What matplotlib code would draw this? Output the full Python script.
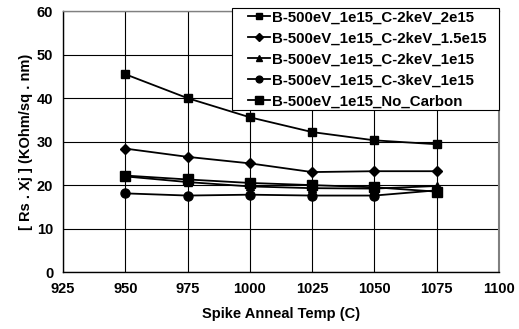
import matplotlib
import matplotlib.pyplot as plt
from matplotlib.patches import Rectangle

matplotlib.use("agg")

plt.rcParams["font.family"] = ["Liberation Sans", "DejaVu Sans"]
plt.rcParams["font.weight"] = "bold"

temps = [950, 975, 1000, 1025, 1050, 1075]
c2kev_2e15 = [45.5, 40.0, 35.6, 32.2, 30.3, 29.4]
c2kev_1p5e15 = [28.4, 26.5, 25.0, 23.0, 23.2, 23.2]
c2kev_1e15 = [22.0, 20.7, 19.7, 19.3, 19.2, 19.8]
c3kev_1e15 = [18.1, 17.6, 17.8, 17.6, 17.6, 18.8]
no_carbon = [22.2, 21.3, 20.5, 20.0, 19.5, 18.5]

labels = [
    "B-500eV_1e15_C-2keV_2e15",
    "B-500eV_1e15_C-2keV_1.5e15",
    "B-500eV_1e15_C-2keV_1e15",
    "B-500eV_1e15_C-3keV_1e15",
    "B-500eV_1e15_No_Carbon",
]
series = [c2kev_2e15, c2kev_1p5e15, c2kev_1e15, c3kev_1e15, no_carbon]
markers = ["s", "D", "^", "o", "s"]
sizes = [6, 5, 6, 6.5, 7]

W, H = 519, 329
fig = plt.figure(figsize=(W / 100, H / 100), dpi=100)
ax = fig.add_axes([0.1214, 0.173, 0.840, 0.793])

for vals, lab, m, ms in zip(series, labels, markers, sizes):
    ax.plot(temps, vals, color="black", marker=m, markersize=ms, lw=1.3, label=lab)

ax.set_xlim(925, 1100)
ax.set_ylim(0, 60)
ax.set_xticks(range(925, 1101, 25))
ax.set_yticks(range(0, 61, 10))
ax.grid(True, color="black", lw=0.8)
ax.tick_params(length=0, labelsize=10.5, pad=7)
for lbl in ax.get_xticklabels() + ax.get_yticklabels():
    lbl.set_fontweight("bold")
for s in ax.spines.values():
    s.set_linewidth(1.0)
ax.spines["right"].set_color("gray")
ax.spines["top"].set_color("gray")
ax.spines["right"].set_linewidth(1.5)

ax.set_xlabel("Spike Anneal Temp (C)", fontsize=10.5, fontweight="bold", labelpad=8)
ax.set_ylabel("[ Rs . Xj ] (KOhm/sq . nm)", fontsize=10.5, fontweight="bold", labelpad=3)

# legend box: wider side padding than matplotlib's uniform borderpad
box = Rectangle((232 / W, 1 - 110 / H), 267 / W, 102 / H, transform=fig.transFigure,
                facecolor="white", edgecolor="black", lw=0.8, clip_on=False, zorder=4)
ax.add_patch(box)
leg = ax.legend(loc="upper left", bbox_to_anchor=(248 / W, 1 - 10.5 / H),
                bbox_transform=fig.transFigure, frameon=False,
                handlelength=1.45, handletextpad=0.15, labelspacing=0.47,
                borderpad=0, borderaxespad=0, markerscale=0.75,
                prop={"weight": "bold", "size": 10.8})
leg.set_zorder(5)

fig.savefig("out.png", dpi=100)
plt.close(fig)
